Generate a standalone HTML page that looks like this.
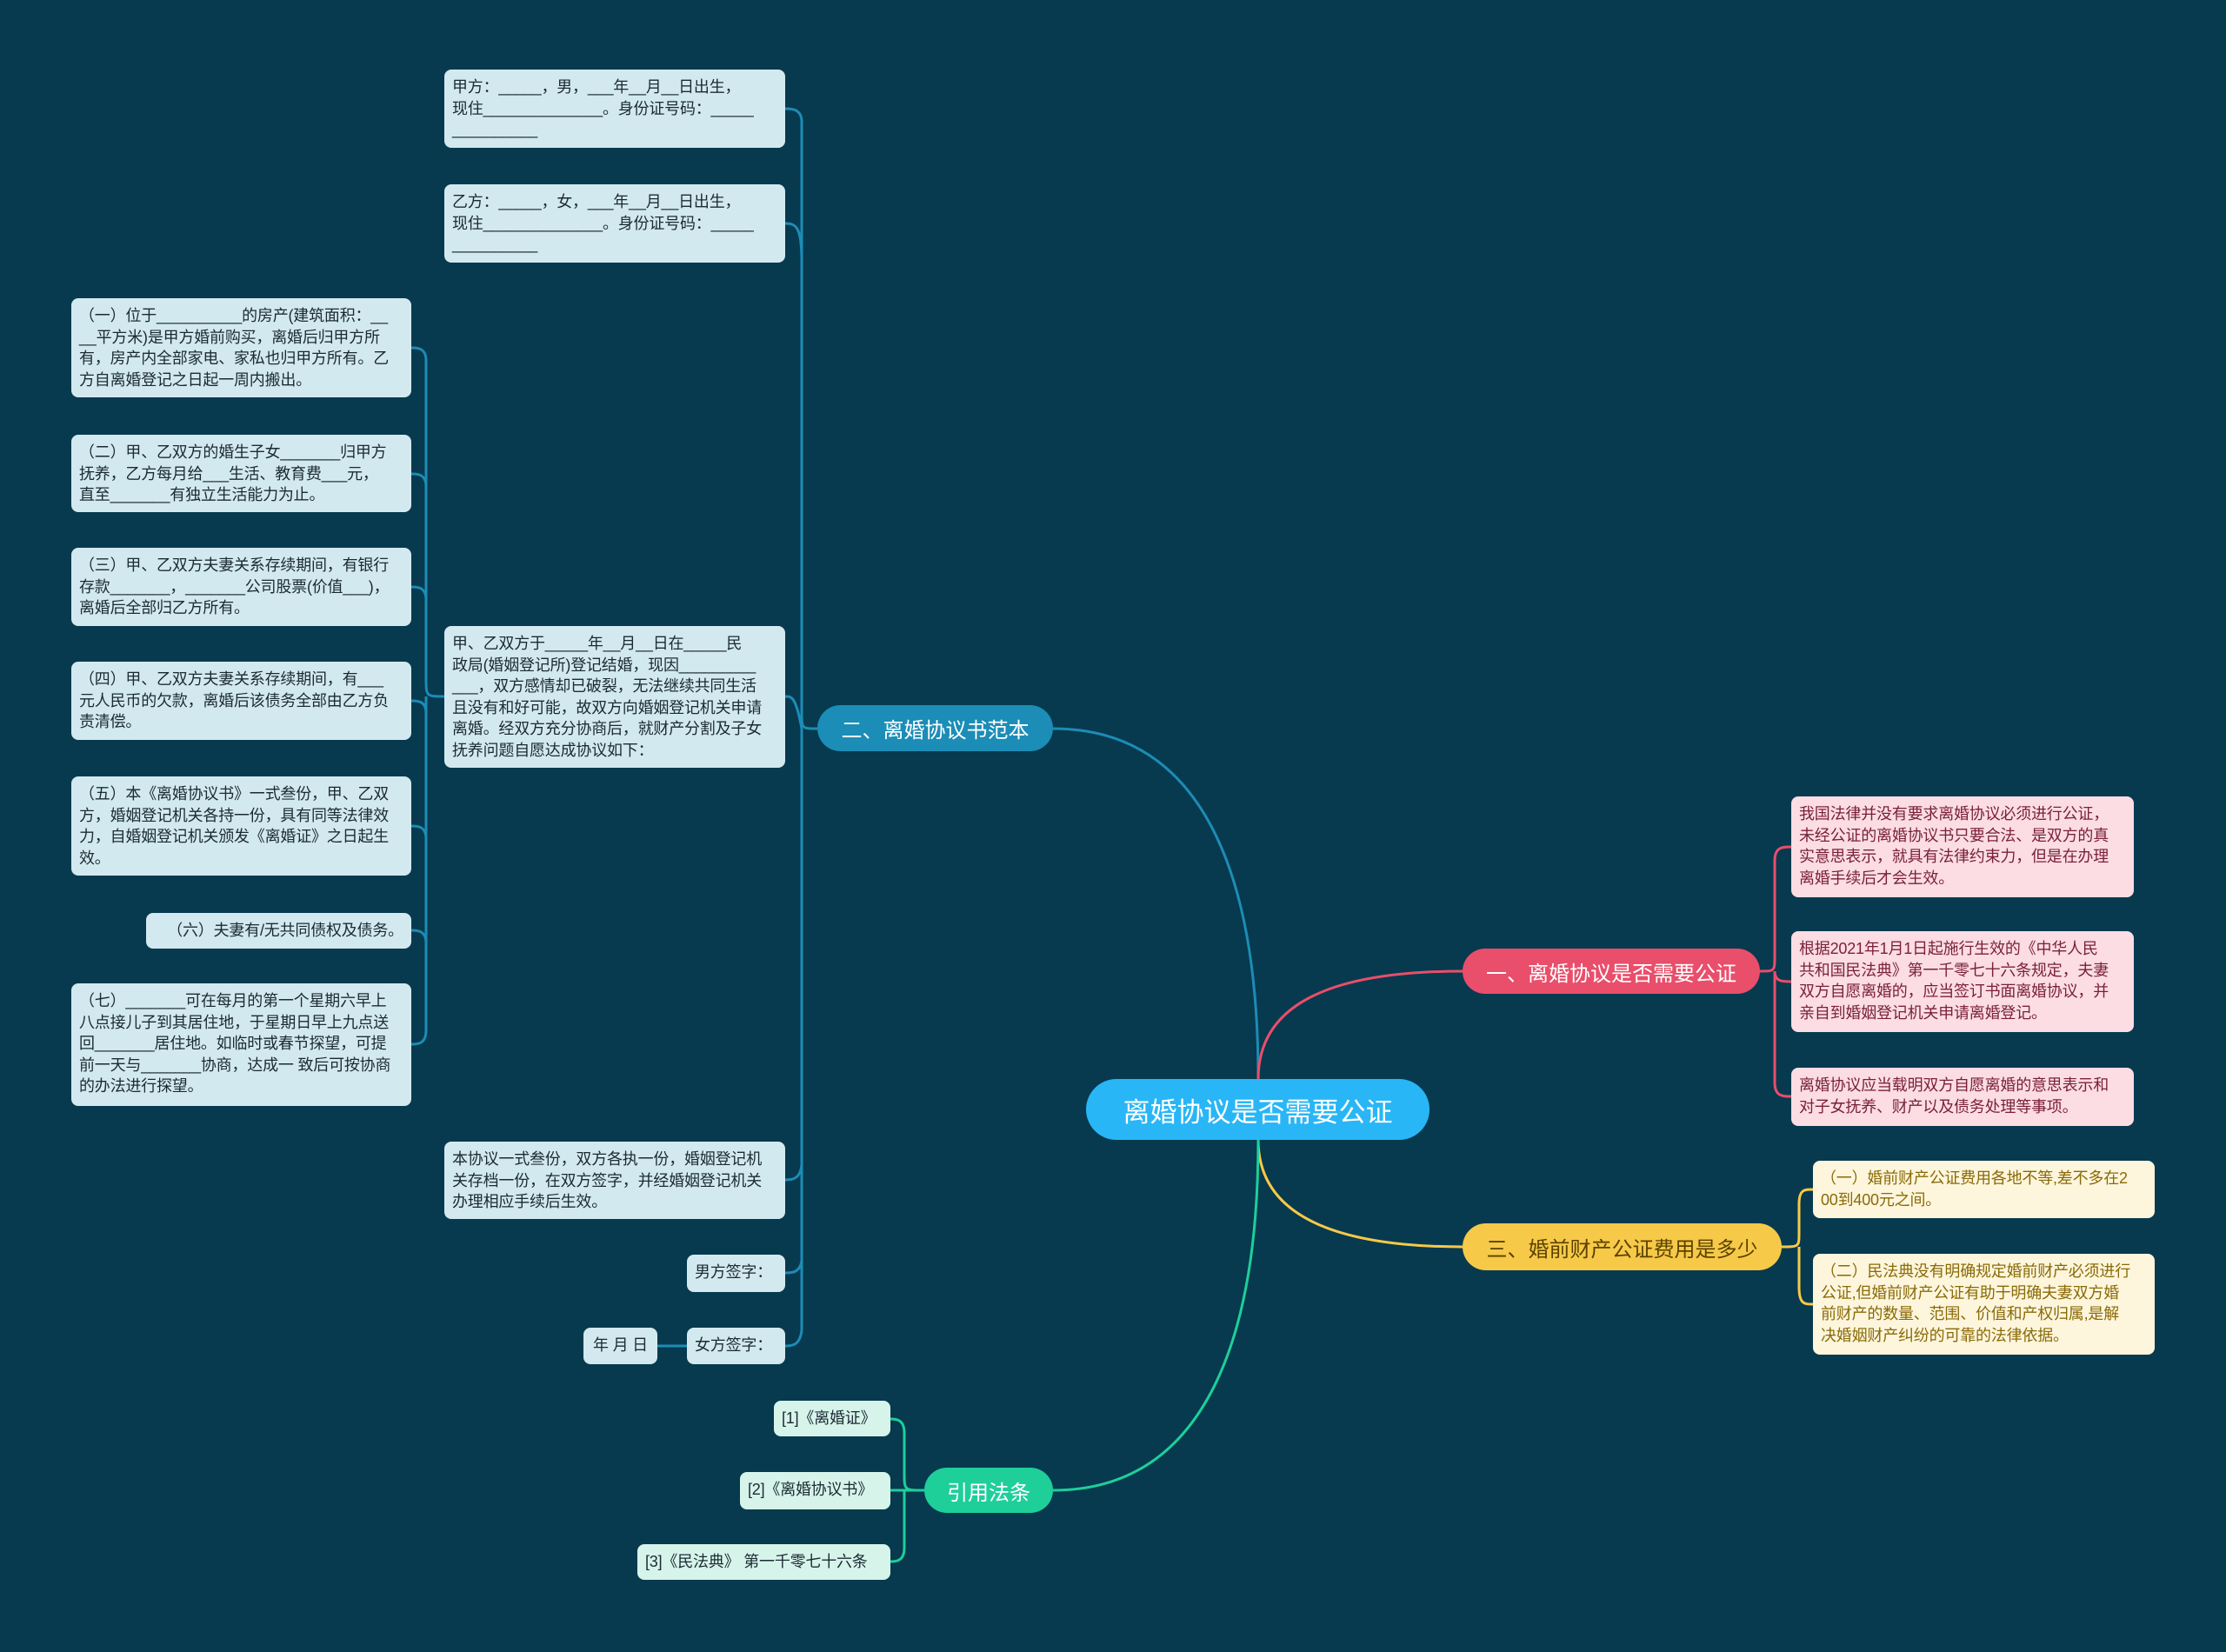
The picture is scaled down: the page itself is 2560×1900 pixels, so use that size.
<!DOCTYPE html>
<html><head><meta charset="utf-8"><style>
body{margin:0;width:2560px;height:1900px;background:#073a4f;overflow:hidden;position:relative;font-family:"Liberation Sans","Noto Sans CJK SC",sans-serif}
.b{position:absolute;box-sizing:border-box;border-radius:8px;font-size:18px;line-height:24.5px;padding:8px 9px;color:#1b2a33;background:#d3e9f0;word-break:break-all;letter-spacing:-0.2px}
.p{background:#fbdde3;color:#7a1f3a}
.y{background:#fdf6dc;color:#8a6a08}
.g{background:#d7f4ea;color:#1b2a33}
.m{position:absolute;box-sizing:border-box;border-radius:27px;color:#fff;font-size:24px;display:flex;align-items:center;justify-content:center}
svg{position:absolute;left:0;top:0}
</style></head><body>
<svg width="2560" height="1900" fill="none" stroke-width="3">
<g stroke="#1d8cb5">
<path d="M1447 1241 C1447 1000 1380 838 1211 838"/>
<path d="M940 838 C922 838 922 838 922 820 L922 140 C922 125 910 125 903 125"/>
<path d="M922 300 C922 260 915 257 903 257"/>
<path d="M922 838 C915 800 910 801 903 801"/>
<path d="M922 838 L922 1340 C920 1357 910 1357 903 1357"/>
<path d="M922 1340 L922 1450 C920 1464 910 1464 903 1464"/>
<path d="M922 1450 L922 1530 C920 1548 910 1548 903 1548"/>
<path d="M790 1548 L756 1548"/>
<path d="M511 801 C490 801 490 801 490 780 L490 415 C490 400 480 400 473 400"/>
<path d="M490 560 C490 545 480 545 473 545"/>
<path d="M490 690 C490 675 480 675 473 675"/>
<path d="M490 820 C490 806 480 806 473 806"/>
<path d="M490 801 L490 1185 C490 1201 480 1201 473 1201"/>
<path d="M490 965 C490 950 480 950 473 950"/>
<path d="M490 1085 C490 1070 480 1070 473 1070"/>
</g>
<g stroke="#e94e6b">
<path d="M1447 1241 C1447 1160 1520 1117 1682 1117"/>
<path d="M2024 1117 C2041 1117 2041 1117 2041 1100 L2041 990 C2041 974 2050 974 2060 974"/>
<path d="M2041 1117 C2041 1129 2050 1129 2060 1129"/>
<path d="M2041 1117 L2041 1245 C2041 1261 2050 1261 2060 1261"/>
</g>
<g stroke="#f7c948">
<path d="M1447 1311 C1447 1390 1520 1434 1682 1434"/>
<path d="M2049 1434 C2069 1434 2069 1434 2069 1418 L2069 1385 C2069 1368 2075 1368 2085 1368"/>
<path d="M2069 1434 L2069 1480 C2069 1500 2075 1500 2085 1500"/>
</g>
<g stroke="#1ecf9a">
<path d="M1447 1311 C1447 1550 1380 1714 1211 1714"/>
<path d="M1063 1714 C1040 1714 1040 1714 1040 1695 L1040 1648 C1040 1632 1030 1632 1024 1632"/>
<path d="M1063 1714 L1024 1714"/>
<path d="M1040 1714 L1040 1780 C1040 1796 1030 1796 1024 1796"/>
</g>
</svg>

<div class="m" style="left:1249px;top:1241px;width:395px;height:70px;background:#29b6f6;font-size:31px;border-radius:35px">离婚协议是否需要公证</div>
<div class="m" style="left:940px;top:811px;width:271px;height:53px;background:#1b8db7">二、离婚协议书范本</div>
<div class="m" style="left:1682px;top:1091px;width:342px;height:52px;background:#e94e6b">一、离婚协议是否需要公证</div>
<div class="m" style="left:1682px;top:1407px;width:367px;height:54px;background:#f7c948;color:#5a4300">三、婚前财产公证费用是多少</div>
<div class="m" style="left:1063px;top:1688px;width:148px;height:52px;background:#1ecf9a;color:#fff">引用法条</div>

<div class="b" style="left:511px;top:80px;width:392px;height:90px">甲方：_____，男，___年__月__日出生，<br>现住______________。身份证号码：_____<br>__________</div>
<div class="b" style="left:511px;top:212px;width:392px;height:90px">乙方：_____，女，___年__月__日出生，<br>现住______________。身份证号码：_____<br>__________</div>
<div class="b" style="left:511px;top:720px;width:392px;height:163px">甲、乙双方于_____年__月__日在_____民<br>政局(婚姻登记所)登记结婚，现因_________<br>___，双方感情却已破裂，无法继续共同生活<br>且没有和好可能，故双方向婚姻登记机关申请<br>离婚。经双方充分协商后，就财产分割及子女<br>抚养问题自愿达成协议如下：</div>
<div class="b" style="left:511px;top:1313px;width:392px;height:89px">本协议一式叁份，双方各执一份，婚姻登记机<br>关存档一份，在双方签字，并经婚姻登记机关<br>办理相应手续后生效。</div>
<div class="b" style="left:790px;top:1443px;width:113px;height:43px">男方签字：</div>
<div class="b" style="left:790px;top:1527px;width:113px;height:42px">女方签字：</div>
<div class="b" style="left:671px;top:1527px;width:85px;height:42px;text-align:center">年 月 日</div>

<div class="b" style="left:82px;top:343px;width:391px;height:114px">（一）位于__________的房产(建筑面积：__<br>__平方米)是甲方婚前购买，离婚后归甲方所<br>有，房产内全部家电、家私也归甲方所有。乙<br>方自离婚登记之日起一周内搬出。</div>
<div class="b" style="left:82px;top:500px;width:391px;height:89px">（二）甲、乙双方的婚生子女_______归甲方<br>抚养，乙方每月给___生活、教育费___元，<br>直至_______有独立生活能力为止。</div>
<div class="b" style="left:82px;top:630px;width:391px;height:90px">（三）甲、乙双方夫妻关系存续期间，有银行<br>存款_______，_______公司股票(价值___)，<br>离婚后全部归乙方所有。</div>
<div class="b" style="left:82px;top:761px;width:391px;height:90px">（四）甲、乙双方夫妻关系存续期间，有___<br>元人民币的欠款，离婚后该债务全部由乙方负<br>责清偿。</div>
<div class="b" style="left:82px;top:893px;width:391px;height:114px">（五）本《离婚协议书》一式叁份，甲、乙双<br>方，婚姻登记机关各持一份，具有同等法律效<br>力，自婚姻登记机关颁发《离婚证》之日起生<br>效。</div>
<div class="b" style="left:168px;top:1050px;width:305px;height:41px;text-align:right">（六）夫妻有/无共同债权及债务。</div>
<div class="b" style="left:82px;top:1131px;width:391px;height:141px">（七）_______可在每月的第一个星期六早上<br>八点接儿子到其居住地，于星期日早上九点送<br>回_______居住地。如临时或春节探望，可提<br>前一天与_______协商，达成一 致后可按协商<br>的办法进行探望。</div>

<div class="b p" style="left:2060px;top:916px;width:394px;height:116px">我国法律并没有要求离婚协议必须进行公证，<br>未经公证的离婚协议书只要合法、是双方的真<br>实意思表示，就具有法律约束力，但是在办理<br>离婚手续后才会生效。</div>
<div class="b p" style="left:2060px;top:1071px;width:394px;height:116px">根据2021年1月1日起施行生效的《中华人民<br>共和国民法典》第一千零七十六条规定，夫妻<br>双方自愿离婚的，应当签订书面离婚协议，并<br>亲自到婚姻登记机关申请离婚登记。</div>
<div class="b p" style="left:2060px;top:1228px;width:394px;height:67px">离婚协议应当载明双方自愿离婚的意思表示和<br>对子女抚养、财产以及债务处理等事项。</div>

<div class="b y" style="left:2085px;top:1335px;width:393px;height:66px">（一）婚前财产公证费用各地不等,差不多在2<br>00到400元之间。</div>
<div class="b y" style="left:2085px;top:1442px;width:393px;height:116px">（二）民法典没有明确规定婚前财产必须进行<br>公证,但婚前财产公证有助于明确夫妻双方婚<br>前财产的数量、范围、价值和产权归属,是解<br>决婚姻财产纠纷的可靠的法律依据。</div>

<div class="b g" style="left:890px;top:1611px;width:134px;height:41px">[1]《离婚证》</div>
<div class="b g" style="left:851px;top:1693px;width:173px;height:43px">[2]《离婚协议书》</div>
<div class="b g" style="left:733px;top:1776px;width:291px;height:41px">[3]《民法典》 第一千零七十六条</div>
</body></html>
